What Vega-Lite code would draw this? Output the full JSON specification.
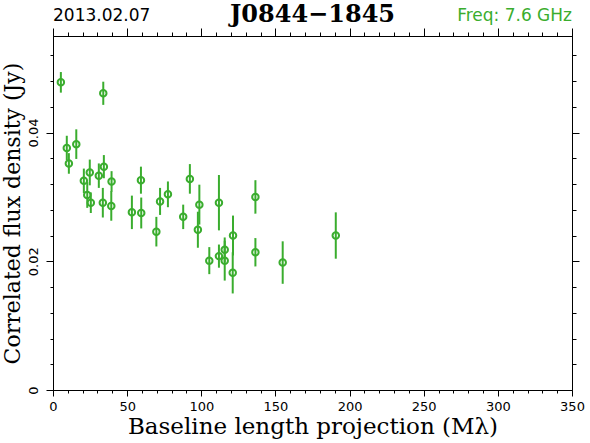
{
  "$schema": "https://vega.github.io/schema/vega-lite/v6.json",
  "width": 519,
  "height": 354,
  "autosize": "none",
  "padding": {"left": 53, "top": 36, "right": 18, "bottom": 53},
  "background": "white",
  "config": {
    "view": {"stroke": "black", "strokeWidth": 1},
    "axis": {
      "grid": false,
      "domainColor": "black",
      "domainWidth": 1,
      "tickColor": "black",
      "tickWidth": 1,
      "labelColor": "black",
      "titleColor": "black",
      "labelFont": "DejaVu Sans",
      "labelFontSize": 13,
      "titleFont": "DejaVu Serif",
      "titleFontSize": 22,
      "titleFontWeight": "normal",
      "labelOverlap": false,
      "labelFlush": false
    }
  },
  "data": {
    "values": [
      {"x": 5.3, "y": 0.0478, "err": 0.0016},
      {"x": 9.3, "y": 0.0376, "err": 0.0019},
      {"x": 10.7, "y": 0.0352, "err": 0.0016},
      {"x": 15.7, "y": 0.0382, "err": 0.0023},
      {"x": 20.8, "y": 0.0325, "err": 0.0019},
      {"x": 23.1, "y": 0.0303, "err": 0.0020},
      {"x": 24.8, "y": 0.0338, "err": 0.0020},
      {"x": 25.5, "y": 0.0291, "err": 0.0016},
      {"x": 30.9, "y": 0.0333, "err": 0.0019},
      {"x": 34.3, "y": 0.0347, "err": 0.0018},
      {"x": 33.6, "y": 0.0291, "err": 0.0023},
      {"x": 33.9, "y": 0.0461, "err": 0.0018},
      {"x": 39.5, "y": 0.0324, "err": 0.0016},
      {"x": 39.3, "y": 0.0286, "err": 0.0023},
      {"x": 53.2, "y": 0.0276, "err": 0.0026},
      {"x": 59.5, "y": 0.0275, "err": 0.0024},
      {"x": 59.3, "y": 0.0326, "err": 0.0021},
      {"x": 69.7, "y": 0.0246, "err": 0.0023},
      {"x": 72.2, "y": 0.0293, "err": 0.0021},
      {"x": 77.5, "y": 0.0304, "err": 0.0020},
      {"x": 87.8, "y": 0.0269, "err": 0.0019},
      {"x": 92.3, "y": 0.0328, "err": 0.0023},
      {"x": 97.7, "y": 0.0249, "err": 0.0028},
      {"x": 98.7, "y": 0.0288, "err": 0.0031},
      {"x": 105.4, "y": 0.0201, "err": 0.0021},
      {"x": 111.9, "y": 0.0291, "err": 0.0043},
      {"x": 111.9, "y": 0.0208, "err": 0.0018},
      {"x": 115.8, "y": 0.0218, "err": 0.0019},
      {"x": 115.8, "y": 0.0201, "err": 0.0031},
      {"x": 121.4, "y": 0.0240, "err": 0.0031},
      {"x": 121.2, "y": 0.0182, "err": 0.0032},
      {"x": 136.5, "y": 0.0300, "err": 0.0026},
      {"x": 136.5, "y": 0.0214, "err": 0.0022},
      {"x": 154.9, "y": 0.0198, "err": 0.0033},
      {"x": 190.7, "y": 0.0240, "err": 0.0036}
    ]
  },
  "layer": [
    {
      "mark": {"type": "errorbar", "ticks": false, "rule": {"color": "#3aad2e", "strokeWidth": 2}},
      "encoding": {
        "x": {
          "field": "x", "type": "quantitative",
          "scale": {"domain": [0, 350], "nice": false, "zero": false},
          "axis": {
            "orient": "bottom",
            "values": [0,10,20,30,40,50,60,70,80,90,100,110,120,130,140,150,160,170,180,190,200,210,220,230,240,250,260,270,280,290,300,310,320,330,340,350],
            "labelExpr": "datum.value % 50 === 0 ? datum.label : ''",
            "tickSize": {"condition": {"test": "datum.value % 50 === 0", "value": 6}, "value": 3},
            "labelPadding": 4,
            "title": "Baseline length projection (Mλ)",
            "titleFontSize": 23,
            "titlePadding": 2
          }
        },
        "y": {
          "field": "y", "type": "quantitative",
          "scale": {"domain": [0, 0.055], "nice": false, "zero": false},
          "axis": {
            "orient": "left",
            "values": [0,0.004,0.008,0.012,0.016,0.02,0.024,0.028,0.032,0.036,0.04,0.044,0.048,0.052],
            "format": ".2~f",
            "labelExpr": "abs(datum.value*50 - round(datum.value*50)) < 0.001 ? datum.label : ''",
            "tickSize": {"condition": {"test": "abs(datum.value*50 - round(datum.value*50)) < 0.001", "value": 7}, "value": 3},
            "labelAngle": -90,
            "labelAlign": "center",
            "labelBaseline": "bottom",
            "labelPadding": 6,
            "title": "Correlated flux density (Jy)",
            "titleFontSize": 22,
            "titlePadding": 3
          }
        },
        "yError": {"field": "err"}
      }
    },
    {
      "mark": {"type": "point", "shape": "circle", "filled": false, "size": 42, "strokeWidth": 2, "color": "#3aad2e", "opacity": 1},
      "encoding": {
        "x": {
          "field": "x", "type": "quantitative",
          "axis": {
            "orient": "top",
            "values": [0,10,20,30,40,50,60,70,80,90,100,110,120,130,140,150,160,170,180,190,200,210,220,230,240,250,260,270,280,290,300,310,320,330,340,350],
            "labels": false,
            "tickSize": {"condition": {"test": "datum.value % 50 === 0", "value": 8}, "value": 4},
            "title": null
          }
        },
        "y": {
          "field": "y", "type": "quantitative",
          "axis": {
            "orient": "right",
            "values": [0.004,0.008,0.012,0.016,0.02,0.024,0.028,0.032,0.036,0.04,0.044,0.048,0.052],
            "labels": false,
            "tickSize": {"condition": {"test": "abs(datum.value*50 - round(datum.value*50)) < 0.001", "value": 7}, "value": 4},
            "title": null
          }
        }
      }
    },
    {
      "data": {"values": [{"note": "2013.02.07"}]},
      "mark": {"type": "text", "align": "left", "baseline": "alphabetic", "dy": -15, "font": "DejaVu Sans", "fontSize": 17, "color": "black"},
      "encoding": {
        "x": {"datum": 0, "type": "quantitative", "axis": null},
        "y": {"datum": 0.055, "type": "quantitative", "axis": null},
        "text": {"field": "note"}
      }
    },
    {
      "data": {"values": [{"note": "J0844−1845"}]},
      "mark": {"type": "text", "align": "center", "baseline": "alphabetic", "dy": -14, "font": "DejaVu Serif", "fontSize": 24, "fontWeight": "bold", "color": "black"},
      "encoding": {
        "x": {"datum": 175, "type": "quantitative", "axis": null},
        "y": {"datum": 0.055, "type": "quantitative", "axis": null},
        "text": {"field": "note"}
      }
    },
    {
      "data": {"values": [{"note": "Freq: 7.6 GHz"}]},
      "mark": {"type": "text", "align": "right", "baseline": "alphabetic", "dy": -15, "font": "DejaVu Sans", "fontSize": 17, "color": "#3aad2e"},
      "encoding": {
        "x": {"datum": 350, "type": "quantitative", "axis": null},
        "y": {"datum": 0.055, "type": "quantitative", "axis": null},
        "text": {"field": "note"}
      }
    }
  ],
  "resolve": {"axis": {"x": "independent", "y": "independent"}}
}
